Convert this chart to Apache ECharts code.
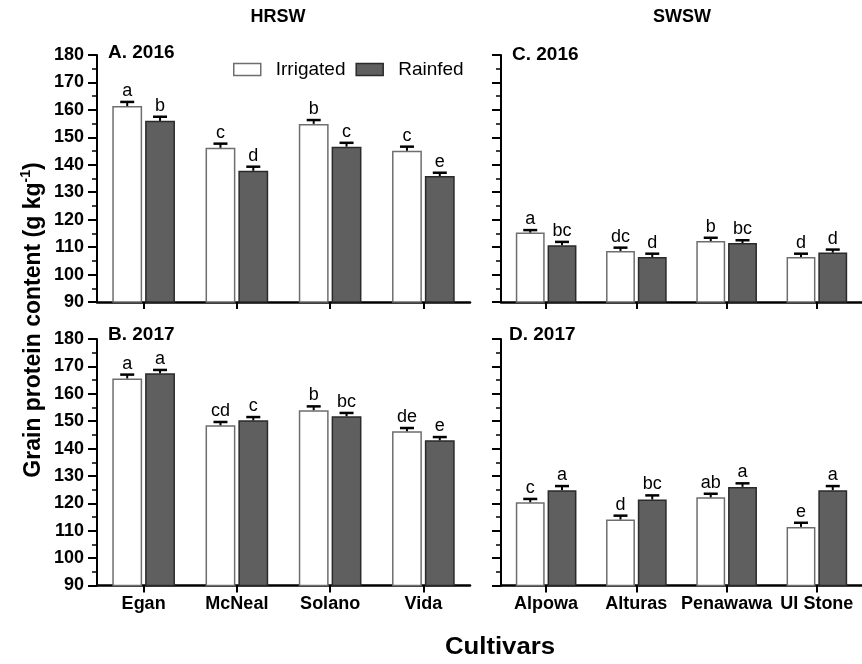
<!DOCTYPE html>
<html><head><meta charset="utf-8">
<script src="https://cdn.jsdelivr.net/npm/echarts@6/dist/echarts.min.js"></script>
<style>html,body{margin:0;padding:0;background:#fff}#c{width:862px;height:664px}</style>
</head><body><div id="c"></div>
<script>
// ---- data ----
const hrswCultivars = ['Egan', 'McNeal', 'Solano', 'Vida'];
const swswCultivars = ['Alpowa', 'Alturas', 'Penawawa', 'UI Stone'];

const a2016Irrigated = [161.4, 146.2, 154.9, 145.1];
const a2016IrrigatedSE = [1.5, 1.5, 1.4, 1.5];
const a2016IrrigatedLetters = ['a', 'c', 'b', 'c'];
const a2016Rainfed = [156.0, 137.8, 146.6, 135.9];
const a2016RainfedSE = [1.5, 1.5, 1.4, 1.2];
const a2016RainfedLetters = ['b', 'd', 'c', 'e'];

const b2017Irrigated = [165.6, 148.5, 154.0, 146.3];
const b2017IrrigatedSE = [1.4, 1.2, 1.4, 1.2];
const b2017IrrigatedLetters = ['a', 'cd', 'b', 'de'];
const b2017Rainfed = [167.5, 150.3, 151.8, 143.0];
const b2017RainfedSE = [1.2, 1.2, 1.2, 1.2];
const b2017RainfedLetters = ['a', 'c', 'bc', 'e'];

const c2016Irrigated = [115.3, 108.6, 112.2, 106.4];
const c2016IrrigatedSE = [0.9, 1.2, 1.2, 1.2];
const c2016IrrigatedLetters = ['a', 'dc', 'b', 'd'];
const c2016Rainfed = [110.7, 106.4, 111.5, 108.0];
const c2016RainfedSE = [1.2, 1.2, 1.0, 1.1];
const c2016RainfedLetters = ['bc', 'd', 'bc', 'd'];

const d2017Irrigated = [120.4, 114.1, 122.2, 111.4];
const d2017IrrigatedSE = [1.2, 1.4, 1.3, 1.5];
const d2017IrrigatedLetters = ['c', 'd', 'ab', 'e'];
const d2017Rainfed = [124.8, 121.4, 126.0, 124.8];
const d2017RainfedSE = [1.5, 1.5, 1.3, 1.5];
const d2017RainfedLetters = ['a', 'bc', 'a', 'a'];

const yMin = 90, yMax = 180, yStep = 10;
const seriesNames = ['Irrigated', 'Rainfed'];

// ---- styling ----
const FONT = 'Liberation Sans, Arial, sans-serif';
const BAR_FRAC = 0.32, GAP_FRAC = 0.10;
const irrStyle = {color: '#ffffff', borderColor: '#6e6e6e', borderWidth: 1.5};
const rainStyle = {color: '#5f5f5f', borderColor: '#2a2a2a', borderWidth: 1.5};

const panels = [
  {grid: {left: 97, top: 55, width: 373, height: 247}, cats: hrswCultivars, showX: false, showY: true,
   irr: a2016Irrigated, irrSE: a2016IrrigatedSE, irrL: a2016IrrigatedLetters,
   rain: a2016Rainfed, rainSE: a2016RainfedSE, rainL: a2016RainfedLetters},
  {grid: {left: 501, top: 55, width: 373, height: 247}, cats: swswCultivars, showX: false, showY: false,
   irr: c2016Irrigated, irrSE: c2016IrrigatedSE, irrL: c2016IrrigatedLetters,
   rain: c2016Rainfed, rainSE: c2016RainfedSE, rainL: c2016RainfedLetters},
  {grid: {left: 97, top: 339, width: 373, height: 246.5}, cats: hrswCultivars, showX: true, showY: true,
   irr: b2017Irrigated, irrSE: b2017IrrigatedSE, irrL: b2017IrrigatedLetters,
   rain: b2017Rainfed, rainSE: b2017RainfedSE, rainL: b2017RainfedLetters},
  {grid: {left: 501, top: 339, width: 373, height: 246.5}, cats: swswCultivars, showX: true, showY: false,
   irr: d2017Irrigated, irrSE: d2017IrrigatedSE, irrL: d2017IrrigatedLetters,
   rain: d2017Rainfed, rainSE: d2017RainfedSE, rainL: d2017RainfedLetters}
];

function errRender(sign, letters) {
  return function (params, api) {
    const ci = api.value(0), v = api.value(1), se = api.value(2);
    const base = api.coord([ci, v]);
    const top = api.coord([ci, v + se]);
    const band = api.size([1, 0])[0];
    const bw = band * BAR_FRAC;
    const x = base[0] + sign * (bw + bw * GAP_FRAC) / 2;
    return {type: 'group', children: [
      {type: 'line', shape: {x1: x, y1: base[1], x2: x, y2: top[1]}, style: {stroke: '#000', lineWidth: 2}},
      {type: 'line', shape: {x1: x - 7, y1: top[1], x2: x + 7, y2: top[1]}, style: {stroke: '#000', lineWidth: 2.5}},
      {type: 'text', x: x, y: top[1] - 2, style: {text: letters[params.dataIndex], fill: '#000',
        font: '18px ' + FONT, align: 'center', verticalAlign: 'bottom'}}
    ]};
  };
}

const grids = [], xAxes = [], yAxes = [], series = [];
panels.forEach((p, i) => {
  grids.push(p.grid);
  xAxes.push({type: 'category', gridIndex: i, data: p.cats,
    axisLine: {lineStyle: {color: '#000', width: 2.5}},
    axisTick: {show: true, alignWithLabel: true, length: 7, lineStyle: {color: '#000', width: 2}},
    axisLabel: {show: p.showX, interval: 0, color: '#000', fontFamily: FONT, fontWeight: 'bold', fontSize: 18, margin: 10},
    splitLine: {show: false}});
  yAxes.push({type: 'value', gridIndex: i, min: yMin, max: yMax, interval: yStep,
    axisLine: {show: true, lineStyle: {color: '#000', width: 2}},
    axisTick: {show: true, length: 9, lineStyle: {color: '#000', width: 2}},
    minorTick: {show: true, splitNumber: 2, length: 5, lineStyle: {color: '#000', width: 1.5}},
    axisLabel: {show: p.showY, color: '#000', fontFamily: FONT, fontWeight: 'bold', fontSize: 18, margin: 13},
    splitLine: {show: false}, minorSplitLine: {show: false}});
  series.push({type: 'bar', name: seriesNames[0], xAxisIndex: i, yAxisIndex: i, data: p.irr,
    barWidth: (BAR_FRAC * 100) + '%', barGap: (GAP_FRAC * 100) + '%', itemStyle: irrStyle, silent: true});
  series.push({type: 'bar', name: seriesNames[1], xAxisIndex: i, yAxisIndex: i, data: p.rain,
    barWidth: (BAR_FRAC * 100) + '%', barGap: (GAP_FRAC * 100) + '%', itemStyle: rainStyle, silent: true});
  series.push({type: 'custom', xAxisIndex: i, yAxisIndex: i, z: 5, silent: true,
    data: p.irr.map((v, k) => [k, v, p.irrSE[k]]), renderItem: errRender(-1, p.irrL)});
  series.push({type: 'custom', xAxisIndex: i, yAxisIndex: i, z: 5, silent: true,
    data: p.rain.map((v, k) => [k, v, p.rainSE[k]]), renderItem: errRender(1, p.rainL)});
});

function txt(t, font, x, y, align, extra) {
  return Object.assign({type: 'text', x: x, y: y,
    style: {text: t, fill: '#000', font: font, align: align, verticalAlign: 'middle'}}, extra || {});
}

const option = {
  animation: false,
  backgroundColor: '#fff',
  grid: grids, xAxis: xAxes, yAxis: yAxes, series: series,
  legend: {data: seriesNames, icon: 'rect', left: 233, top: 60, padding: 0, itemWidth: 27, itemHeight: 12, itemGap: 10,
    itemStyle: {borderWidth: 1.5},
    textStyle: {fontFamily: FONT, fontSize: 19, color: '#000', padding: [0, 0, 0, 10]}},
  graphic: [
    txt('HRSW', 'bold 18px ' + FONT, 278, 17, 'center'),
    txt('SWSW', 'bold 18px ' + FONT, 682, 17, 'center'),
    txt('A. 2016', 'bold 19px ' + FONT, 108, 53, 'left'),
    txt('C. 2016', 'bold 19px ' + FONT, 512, 55, 'left'),
    txt('B. 2017', 'bold 19px ' + FONT, 108, 335, 'left'),
    txt('D. 2017', 'bold 19px ' + FONT, 509, 335, 'left'),
    txt('Cultivars', 'bold 23px ' + FONT, 500, 648, 'center', {scaleX: 1.12, originX: 0, originY: 0}),
    {type: 'text', x: 32, y: 320, rotation: Math.PI / 2,
      style: {text: '{a|Grain protein content (g kg}{s|-1}{a|)}', align: 'center', verticalAlign: 'middle',
        rich: {a: {font: 'bold 23px ' + FONT, fill: '#000', lineHeight: 26, verticalAlign: 'bottom'},
               s: {font: 'bold 14px ' + FONT, fill: '#000', lineHeight: 26, verticalAlign: 'top', padding: [0, 0, 9, 0]}}}}
  ]
};
const chart = echarts.init(document.getElementById('c'), null, {renderer: 'canvas'});
chart.setOption(option);
</script></body></html>
